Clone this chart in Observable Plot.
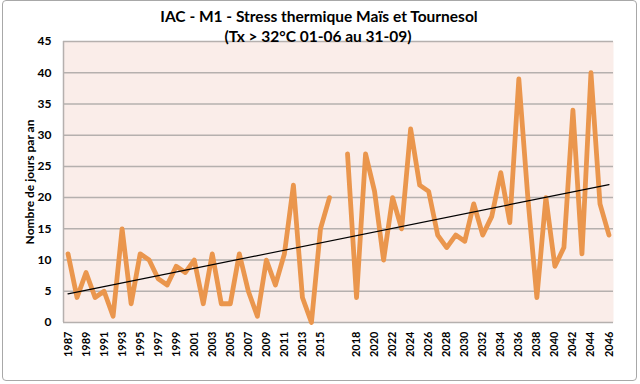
<!DOCTYPE html>
<html>
<head>
<meta charset="utf-8">
<script src="https://cdn.jsdelivr.net/npm/d3@7"></script>
<script src="https://cdn.jsdelivr.net/npm/@observablehq/plot@0.6"></script>
<style>
  html, body { margin: 0; padding: 0; background: #fff; }
  #wrap { position: relative; width: 640px; height: 384px; overflow: hidden; font-family: Lato, "Open Sans", sans-serif; }
  #border { position: absolute; left: 2px; top: 0px; width: 633px; height: 379px; border: 1px solid #a8a8a8; border-radius: 4px; pointer-events: none; }
  #chart { position: absolute; left: 0; top: 0; }
  .title { position: absolute; left: 0; width: 640px; text-align: center; font-weight: bold; color: #000; white-space: nowrap; }
  #t1 { top: 7px; font-size: 15.5px; left: -1px; }
  #t2 { top: 27px; font-size: 15.5px; left: -2px; }
</style>
</head>
<body>
<div id="wrap">
  <div id="chart"></div>
  <div id="border"></div>
  <div class="title" id="t1">IAC - M1 - Stress thermique Maïs et Tournesol</div>
  <div class="title" id="t2">(Tx &gt; 32°C 01-06 au 31-09)</div>
</div>
<script>
// Categories (an empty category separates the two periods)
const years = [
  "1987","1988","1989","1990","1991","1992","1993","1994","1995","1996",
  "1997","1998","1999","2000","2001","2002","2003","2004","2005","2006",
  "2007","2008","2009","2010","2011","2012","2013","2014","2015","2016",
  "",
  "2017","2018","2019","2020","2021","2022","2023","2024","2025","2026",
  "2027","2028","2029","2030","2031","2032","2033","2034","2035","2036",
  "2037","2038","2039","2040","2041","2042","2043","2044","2045","2046"
];
// Number of days per year with Tx > 32°C
const days = [
  11, 4, 8, 4, 5, 1, 15, 3, 11, 10,
  7, 6, 9, 8, 10, 3, 11, 3, 3, 11,
  5, 1, 10, 6, 11, 22, 4, 0, 15, 20,
  null,
  27, 4, 27, 21, 10, 20, 15, 31, 22, 21,
  14, 12, 14, 13, 19, 14, 17, 24, 16, 39,
  20, 4, 20, 9, 12, 34, 11, 40, 19, 14
];
const yTicks = [0, 5, 10, 15, 20, 25, 30, 35, 40, 45];
const yLabel = "Nombre de jours par an";

const data = years.map((y, i) => ({i, year: y, v: days[i]}));
const defined = data.filter(d => d.v != null);
const xTicks = data.filter(d => d.i % 2 === 0).map(d => d.i);

const chart = Plot.plot({
  width: 640,
  height: 384,
  marginLeft: 63,
  marginRight: 27,
  marginTop: 41,
  marginBottom: 62,
  style: {fontFamily: "Lato, sans-serif", fontWeight: "bold", color: "#000", background: "transparent"},
  x: {type: "linear", domain: [-0.5, years.length - 0.5]},
  y: {domain: [0, 45]},
  marks: [
    Plot.frame({fill: "#faede9", stroke: null}),
    Plot.gridY(yTicks, {stroke: "#b5b0ae", strokeOpacity: 1, strokeWidth: 1.5}),
    Plot.ruleX([-0.5], {stroke: "#b5b0ae", strokeWidth: 1.5}),
    Plot.axisY(yTicks, {tickSize: 0, tickPadding: 12, fontSize: 12, fontWeight: "bold",
      label: yLabel, labelAnchor: "center", labelArrow: "none", labelOffset: 38}),
    Plot.axisX(xTicks, {tickSize: 0, tickPadding: 9, tickRotate: -90, fontSize: 11, fontWeight: "bold",
      tickFormat: i => years[i], label: null}),
    Plot.line(data, {x: "i", y: "v", stroke: "#ea964d", strokeWidth: 4.8, strokeLinejoin: "round", strokeLinecap: "round"}),
    Plot.linearRegressionY(defined, {x: "i", y: "v", ci: 0, stroke: "#000", strokeWidth: 1.2})
  ]
});
document.getElementById("chart").appendChild(chart);
</script>
</body>
</html>
